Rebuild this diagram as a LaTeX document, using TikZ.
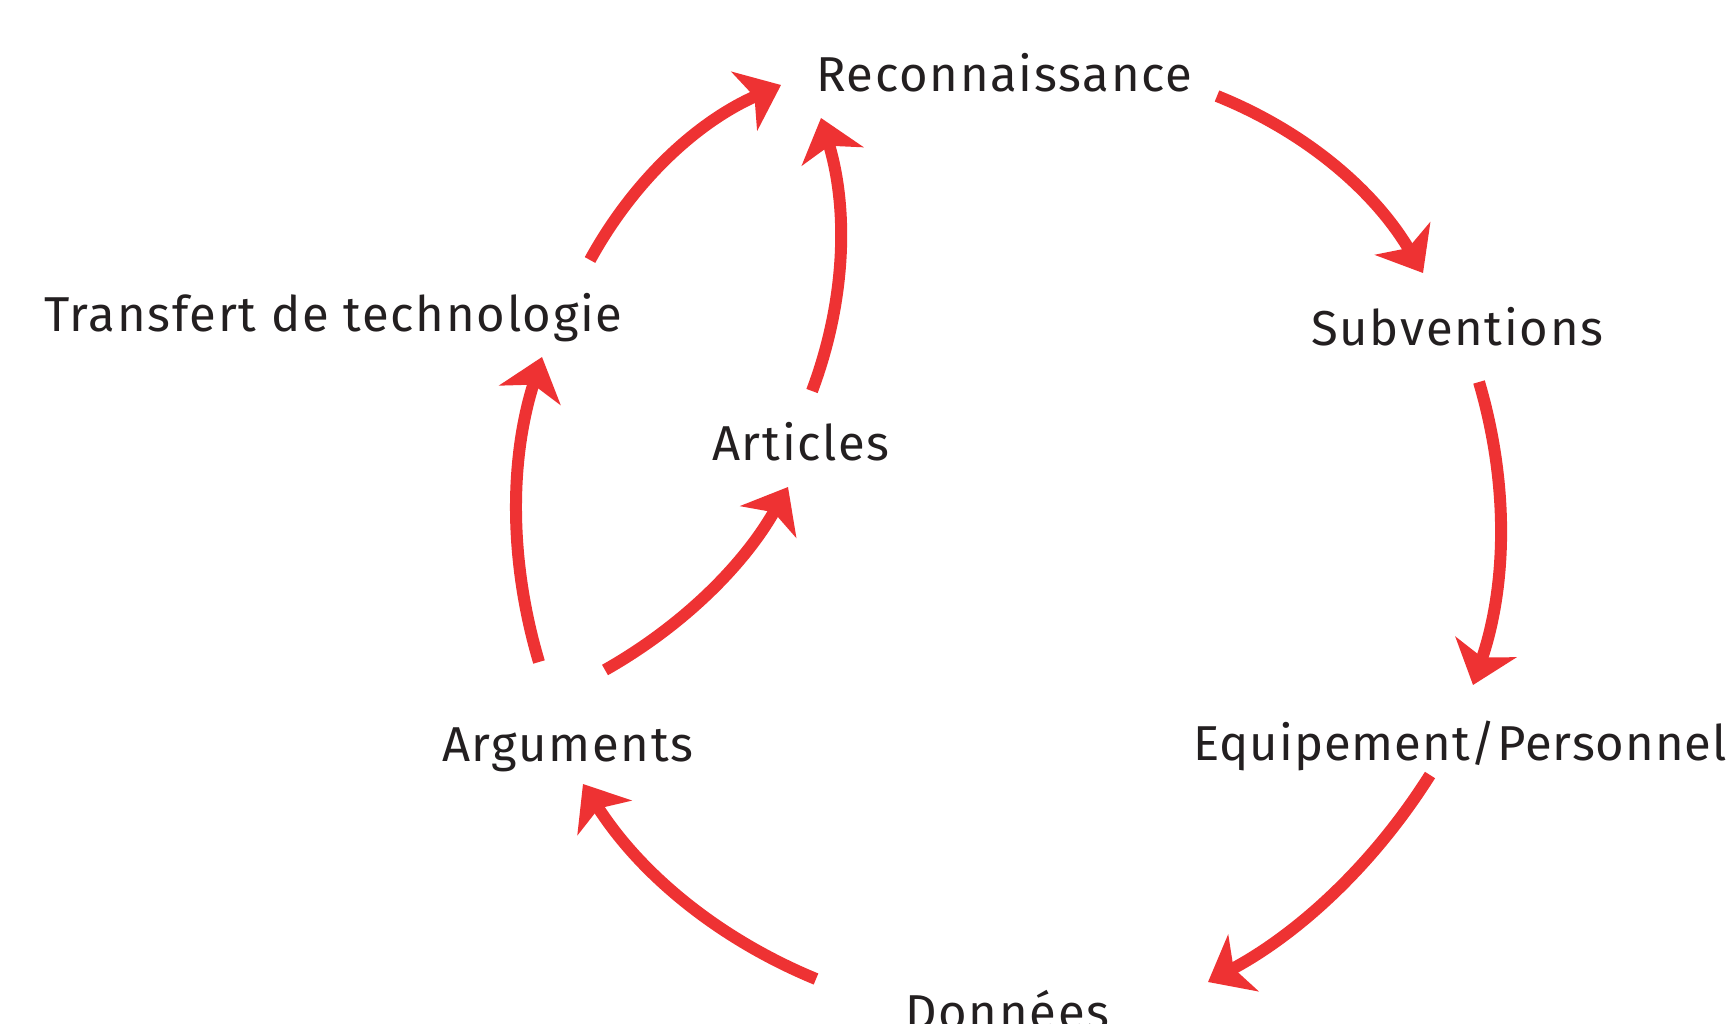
\documentclass[tikz,border=0pt]{standalone}
\usepackage{fontspec}
\setmainfont[LetterSpace=3.5]{Fira Sans}
\newfontfamily\tightlbl[LetterSpace=2.0]{Fira Sans}
\usetikzlibrary{arrows.meta}
\definecolor{arrowred}{HTML}{EE3233}
\definecolor{labeltext}{HTML}{231F20}
\begin{document}
\begin{tikzpicture}[x=1pt,y=-1pt,
  lbl/.style={font=\fontsize{49}{55}\selectfont, text=labeltext, inner sep=0pt, anchor=base west},
  cyc/.style={draw=arrowred, line width=12pt, -{Stealth[length=40pt,width=64pt,inset=11pt]}}]
\useasboundingbox (0,0) rectangle (1736,1024);
% labels
\node[lbl] (rec) at (816,92) {Reconnaissance};
\node[lbl] (sub) at (1311,345) {Subventions};
\node[lbl, font=\tightlbl\fontsize{49}{55}\selectfont] (equ) at (1193,760) {Equipement/Personnel};
\node[lbl] (don) at (905,1029) {Données};
\node[lbl] (tra) at (44,331) {Transfert de technologie};
\node[lbl] (art) at (712,460) {Articles};
\node[lbl] (arg) at (442,761) {Arguments};
% connector end points
\coordinate (recS) at (1217,96);   \coordinate (subE) at (1423,273);
\coordinate (subS) at (1479,382);  \coordinate (equE) at (1473,685);
\coordinate (equS) at (1430,775);  \coordinate (donE) at (1208,982);
\coordinate (donS) at (816,979);   \coordinate (argE) at (583,784);
\coordinate (argS1) at (539,662);  \coordinate (traE) at (542,357);
\coordinate (traS) at (590,260);   \coordinate (recE1) at (781,85);
\coordinate (artS) at (812,391);   \coordinate (recE2) at (821,118);
\coordinate (argS2) at (605,670);  \coordinate (artE) at (788,487);
% connectors
\draw[cyc] (recS) .. controls (1305.7,131.7) and (1374.3,190.7) .. (subE);
\draw[cyc] (subS) .. controls (1509,483.7) and (1507,584.7) .. (equE);
\draw[cyc] (equS) .. controls (1374.2,863.5) and (1300.2,932.5) .. (donE);
\draw[cyc] (donS) .. controls (717.8,938.5) and (640.1,873.5) .. (argE);
\draw[cyc] (argS1) .. controls (508.7,560.3) and (509.7,458.7) .. (traE);
\draw[cyc] (traS) .. controls (633.8,180.1) and (697.5,121.7) .. (recE1);
\draw[cyc] (artS) .. controls (845.7,301.1) and (848.7,210.1) .. (recE2);
\draw[cyc] (argS2) .. controls (682.9,625.9) and (743.9,564.9) .. (artE);
\end{tikzpicture}
\end{document}
